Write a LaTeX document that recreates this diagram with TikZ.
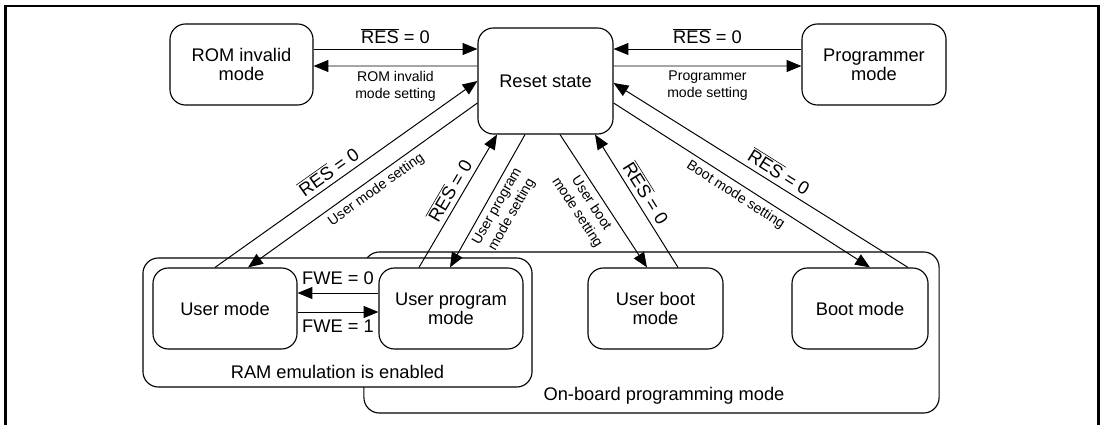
\documentclass[tikz,border=0pt]{standalone}
\usepackage{fontspec}
\setmainfont{Liberation Sans}
\usetikzlibrary{calc,arrows.meta}

\newcommand{\modefont}{\fontsize{13}{13.5}\selectfont}
\newcommand{\notefont}{\fontsize{10}{12}\selectfont}
\newcommand{\resbar}{$\overline{\mbox{RES}}$ = 0}

\tikzset{
  mode/.style={draw, line width=0.8pt, rounded corners=11pt, inner sep=0pt,
    align=center, font=\modefont, minimum height=2.025cm},
  group/.style={draw, line width=0.8pt, rounded corners=11pt, inner sep=0pt},
  arr/.style={-{Triangle[length=10.5pt,width=8.5pt]}},
  lbl/.style={font=\modefont},
  note/.style={font=\notefont, align=center},
}

\begin{document}
\begin{tikzpicture}[x=0.025cm, y=-0.025cm, line width=0.7pt]
    \useasboundingbox (0,0) rectangle (1102,425);
    \draw [line width=1.8pt] (5.5,425) -- (5.5,6) -- (1098.5,6) -- (1098.5,425);

    % mode groups
    \node [group, minimum width=14.375cm, minimum height=4.025cm] (onboard) at (651.5,332.5) {};
    \node [font=\modefont] (onboardlbl) at ($(onboard.south)+(12.5,-18)$) {On-board programming mode};
    \node [group, fill=white, minimum width=9.725cm, minimum height=3.225cm] (ram) at (337.5,322.5) {};
    \node [font=\modefont] (ramlbl) at ($(ram.south)+(0,-16)$) {RAM emulation is enabled};

    % modes
    \node [mode, minimum width=3.575cm] (rom) at (241.5,64.5) {ROM invalid\\mode};
    \node [mode, minimum width=3.375cm, minimum height=2.65cm] (reset) at (545.5,81) {Reset state};
    \node [mode, minimum width=3.6cm] (prog) at (874,64.5) {Programmer\\mode};
    \node [mode, minimum width=3.6cm] (user) at (225,308.5) {User mode};
    \node [mode, minimum width=3.6cm] (uprog) at (451,308.5) {User program\\mode};
    \node [mode, minimum width=3.375cm] (uboot) at (655.5,308.5) {User boot\\mode};
    \node [mode, minimum width=3.4cm] (boot) at (860,308.5) {Boot mode};

    % top row
    \draw [arr] ($(rom.east)+(0,-15.5)$) -- node [above, lbl] {\resbar} ($(reset.west)+(0,-32)$);
    \draw [arr] ($(reset.west)+(0,-15)$) -- node [below, note] {ROM invalid\\mode setting} ($(rom.east)+(0,1.5)$);
    \draw [arr] ($(prog.west)+(0,-15.5)$) -- node [above, lbl] {\resbar} ($(reset.east)+(0,-32)$);
    \draw [arr] ($(reset.east)+(0,-15)$) -- node [below, note] {Programmer\\mode setting} ($(prog.west)+(0,1.5)$);

    % diagonals
    \draw [arr] ($(user.north)+(-10,0)$) -- node [sloped, above, lbl, pos=0.46] {\resbar} (reset.west);
    \draw [arr] ($(reset.west)+(0,22)$) -- node [sloped, below, note, pos=0.47] {User mode setting} ($(user.north)+(23,0)$);
    \draw [arr] ($(uprog.north)+(-32,0)$) -- node [sloped, above, lbl, pos=0.53] {\resbar} ($(reset.south)+(-48.5,0)$);
    \draw [arr] ($(reset.south)+(-20.5,0)$) -- node [sloped, below, note, pos=0.5] {User program\\mode setting} ($(uprog.north)+(-1,0)$);
    \draw [arr] ($(reset.south)+(14.5,0)$) -- node [sloped, below, note, pos=0.47] {User boot\\mode setting} ($(uboot.north)+(-8.5,0)$);
    \draw [arr] ($(uboot.north)+(22.5,0)$) -- node [sloped, above, lbl, pos=0.51] {\resbar} ($(reset.south)+(49.5,0)$);
    \draw [arr] ($(reset.east)+(0,22)$) -- node [sloped, below, note, pos=0.5] {Boot mode setting} ($(boot.north)+(10,0)$);
    \draw [arr] ($(boot.north)+(48,0)$) -- node [sloped, above, lbl, pos=0.46] {\resbar} ($(reset.east)+(0,2)$);

    % FWE
    \draw [arr] ($(uprog.west)+(0,-15.5)$) -- node [above=2pt, lbl] {FWE = 0} ($(user.east)+(0,-15.5)$);
    \draw [arr] ($(user.east)+(0,3.5)$) -- node [below=2pt, lbl] {FWE = 1} ($(uprog.west)+(0,3.5)$);
\end{tikzpicture}
\end{document}
